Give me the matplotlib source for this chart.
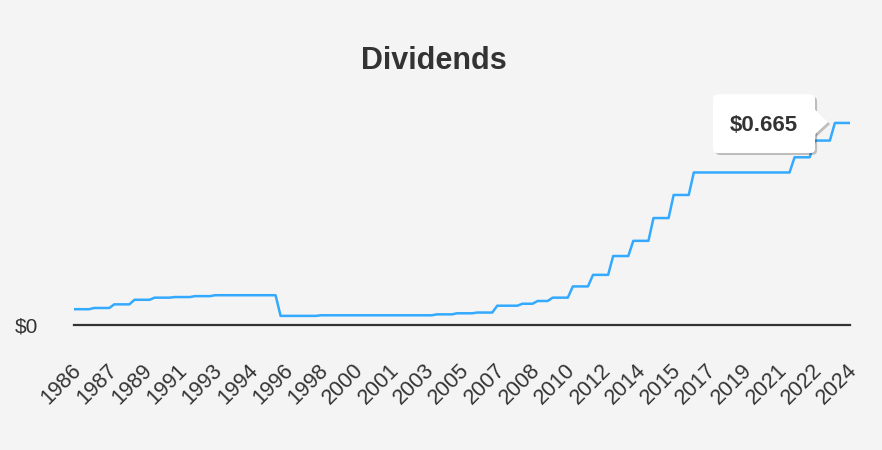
import matplotlib
matplotlib.use('Agg')
import matplotlib.pyplot as plt
import matplotlib.patheffects as pe
import matplotlib.transforms as mtransforms
from matplotlib.patches import FancyBboxPatch, Polygon

plt.rcParams['font.family'] = ['Liberation Sans', 'DejaVu Sans']

# quarterly dividend per share, 1986 Q1 .. 2024 Q3
dividends = [
    0.052, 0.052, 0.052, 0.052,
    0.056, 0.056, 0.056, 0.056,
    0.068, 0.068, 0.068, 0.068,
    0.083, 0.083, 0.083, 0.083,
    0.090, 0.090, 0.090, 0.090,
    0.092, 0.092, 0.092, 0.092,
    0.095, 0.095, 0.095, 0.095,
    0.098, 0.098, 0.098, 0.098, 0.098, 0.098, 0.098, 0.098,
    0.098, 0.098, 0.098, 0.098, 0.098,
    0.030, 0.030, 0.030, 0.030, 0.030, 0.030, 0.030, 0.030,
    0.032, 0.032, 0.032, 0.032, 0.032, 0.032, 0.032, 0.032,
    0.032, 0.032, 0.032, 0.032, 0.032, 0.032, 0.032, 0.032,
    0.032, 0.032, 0.032, 0.032, 0.032, 0.032, 0.032,
    0.035, 0.035, 0.035, 0.035,
    0.0385, 0.0385, 0.0385, 0.0385,
    0.041, 0.041, 0.041, 0.041,
    0.0635, 0.0635, 0.0635, 0.0635, 0.0635,
    0.070, 0.070, 0.070,
    0.079, 0.079, 0.079,
    0.090, 0.090, 0.090, 0.090,
    0.127, 0.127, 0.127, 0.127,
    0.165, 0.165, 0.165, 0.165,
    0.227, 0.227, 0.227, 0.227,
    0.277, 0.277, 0.277, 0.277,
    0.352, 0.352, 0.352, 0.352,
    0.428, 0.428, 0.428, 0.428,
    0.502, 0.502, 0.502, 0.502, 0.502, 0.502, 0.502, 0.502, 0.502, 0.502,
    0.502, 0.502, 0.502, 0.502, 0.502, 0.502, 0.502, 0.502, 0.502, 0.502,
    0.552, 0.552, 0.552, 0.552,
    0.607, 0.607, 0.607, 0.607,
    0.665, 0.665, 0.665, 0.665,
]
year_labels = ['1986', '1987', '1989', '1991', '1993', '1994', '1996', '1998',
               '2000', '2001', '2003', '2005', '2007', '2008', '2010', '2012',
               '2014', '2015', '2017', '2019', '2021', '2022', '2024']
label_step = 7  # one label every 7 quarters

BG = '#f4f4f4'
LINE = '#33aaff'
TEXT = '#333333'

fig = plt.figure(figsize=(8.82, 4.5), dpi=100, facecolor=BG)
ax = fig.add_axes([74 / 882, 125 / 450, 776 / 882, 230 / 450])
ax.set_facecolor(BG)

x = range(len(dividends))
ax.plot(x, dividends, color=LINE, lw=1.8, zorder=3)
ax.set_xlim(0, len(dividends) - 1)
ax.set_ylim(0, 0.757)

for s in ['top', 'right', 'left']:
    ax.spines[s].set_visible(False)
ax.spines['bottom'].set_color(TEXT)
ax.spines['bottom'].set_linewidth(1.6)

ax.set_xticks(range(0, len(dividends), label_step))
ax.set_xticklabels(year_labels, rotation=45, ha='right', va='top',
                   rotation_mode='anchor', fontsize=15.5, color=TEXT)
ax.tick_params(axis='x', length=0, pad=25)
shift = mtransforms.ScaledTranslation(-3 / 100, 0, fig.dpi_scale_trans)
for lab in ax.get_xticklabels():
    lab.set_transform(lab.get_transform() + shift)

ax.set_yticks([0])
ax.set_yticklabels(['$0'], fontsize=15, color=TEXT, va='center_baseline')
ax.tick_params(axis='y', length=0, pad=26)

fig.text(0.492, 0.864, 'Dividends', fontsize=22, weight='bold',
         color=TEXT, ha='center', va='center')

# tooltip on the last point (offsets in pixels)
last_i = len(dividends) - 1
last_v = dividends[-1]
anchor = mtransforms.Affine2D() + mtransforms.ScaledTranslation(last_i, last_v, ax.transData)
shadow = [pe.withSimplePatchShadow(offset=(1.5, -1.5), shadow_rgbFace='black', alpha=0.22),
          pe.Normal()]

box = FancyBboxPatch((-137, -30), 102, 58.5, boxstyle='round,pad=0,rounding_size=5',
                     transform=anchor, fc='white', ec='none', zorder=5, clip_on=False)
box.set_path_effects(shadow)
ax.add_patch(box)
tip = Polygon([(-36, 14), (-22, 1), (-36, -12)], closed=True, transform=anchor,
              fc='white', ec='none', zorder=5, clip_on=False)
tip.set_path_effects(shadow)
ax.add_patch(tip)
ax.text(-86.5, -2.5, f'${last_v:.3f}', transform=anchor, fontsize=16, weight='bold',
        color=TEXT, ha='center', va='center', zorder=6)

fig.savefig('out.png', dpi=100, facecolor=BG)
